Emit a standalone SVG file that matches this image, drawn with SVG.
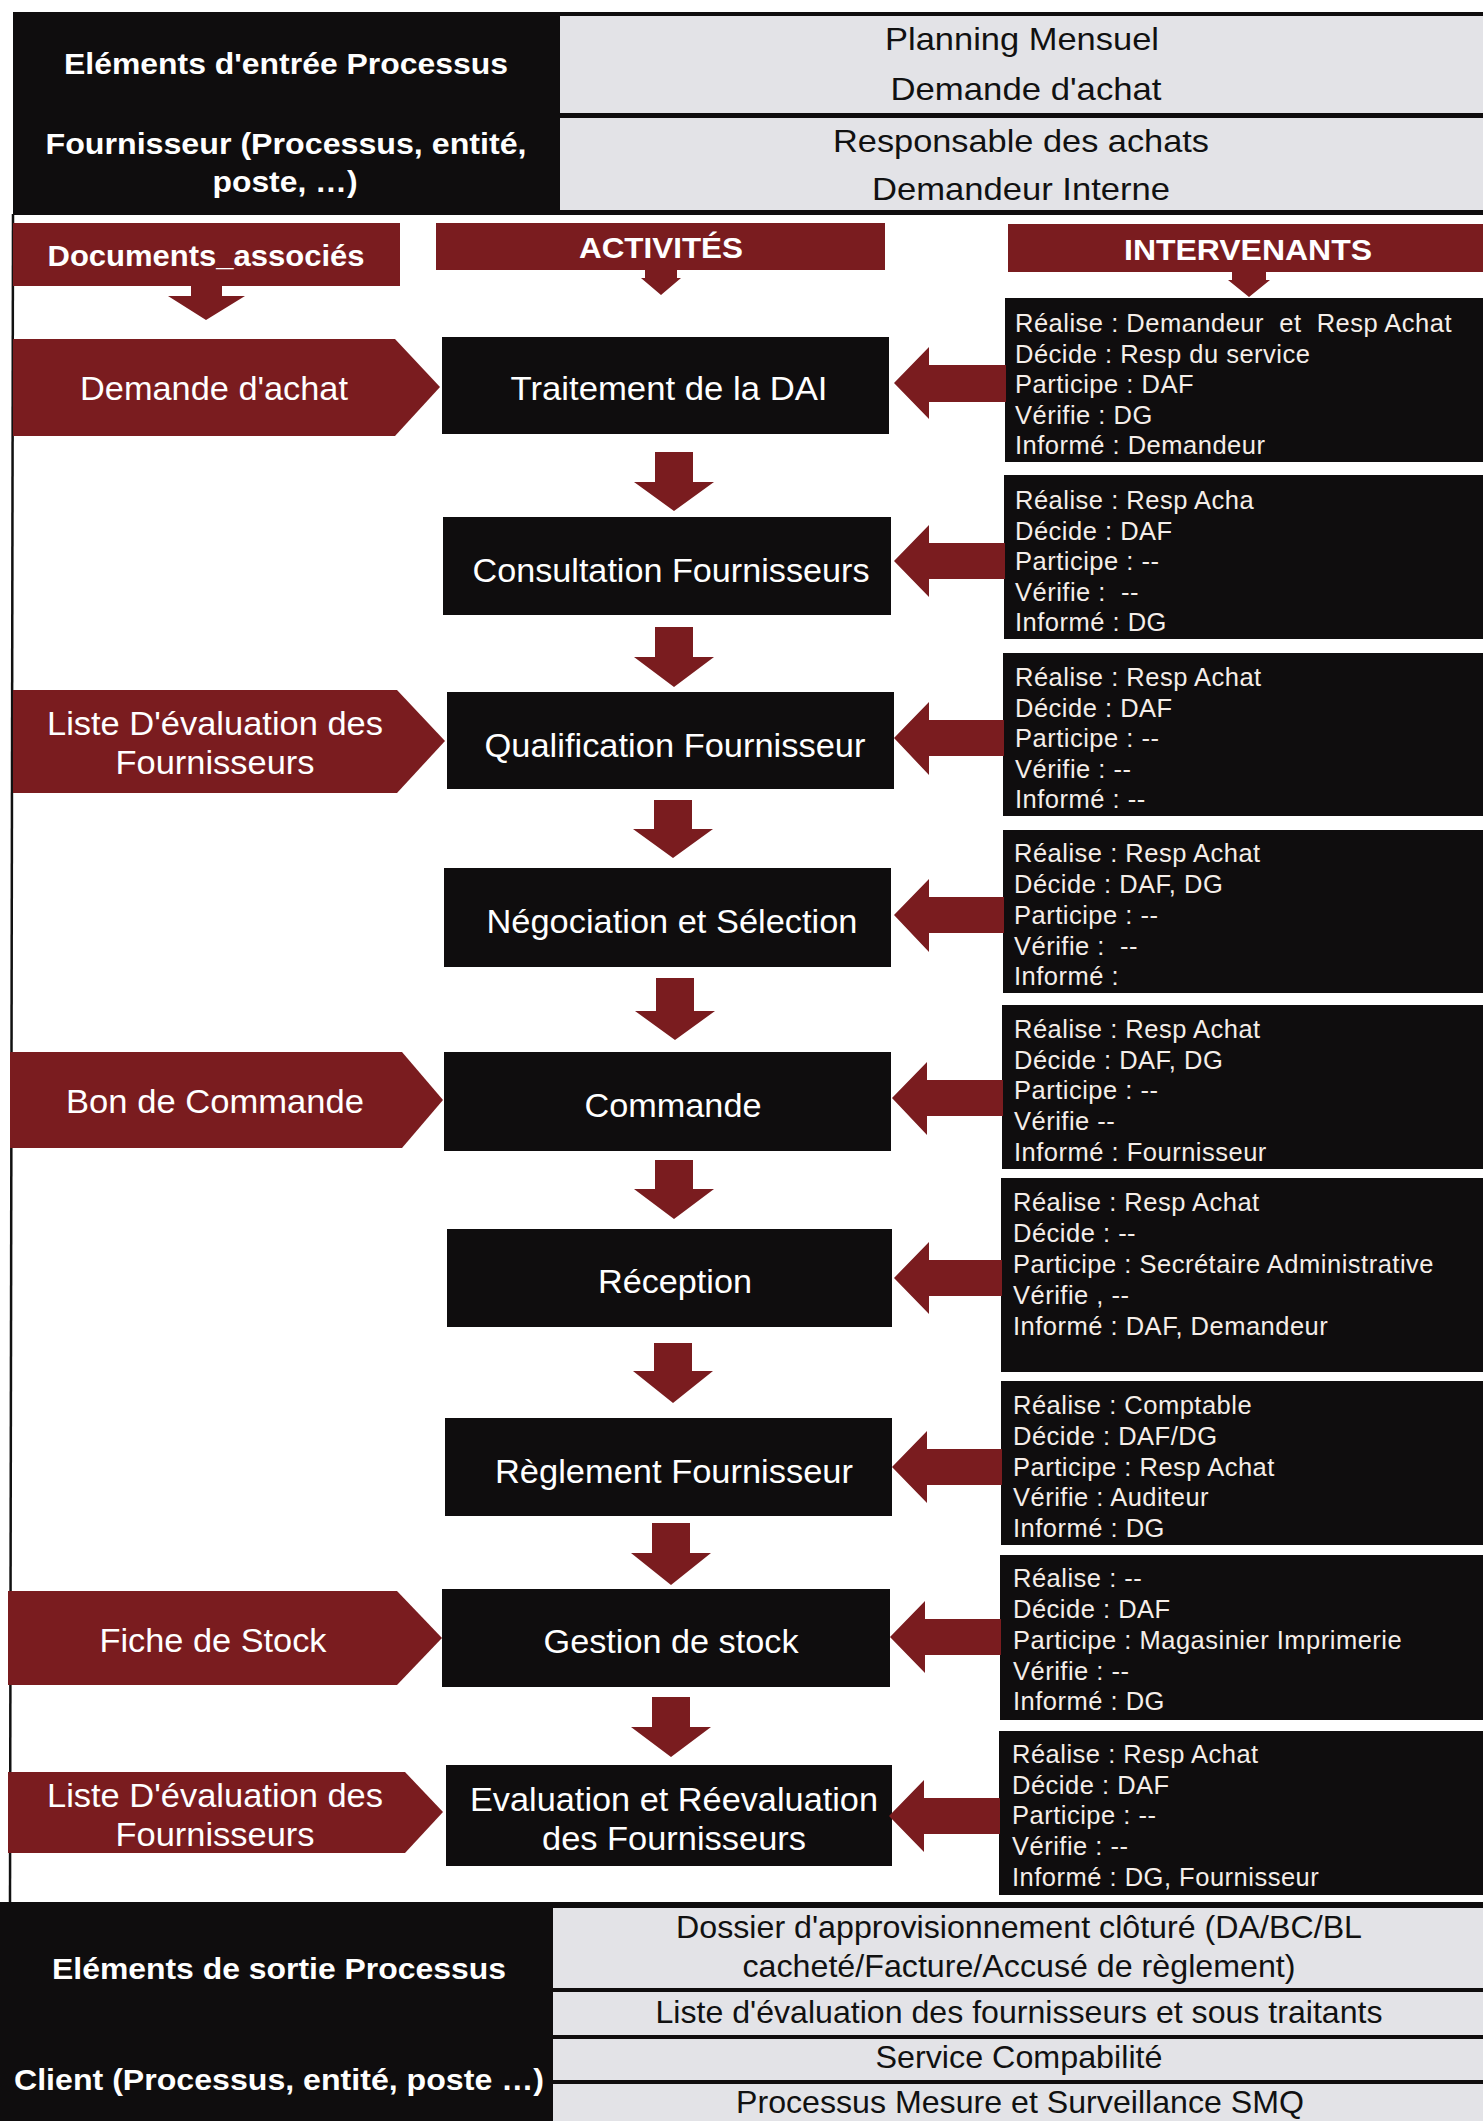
<svg xmlns="http://www.w3.org/2000/svg" width="1483" height="2121" viewBox="0 0 1483 2121">
<style>
.blk{fill:#0f0d0e}
.red{fill:#7a1c1f}
.gray{fill:#e3e3e7}
.hd{font-family:"Liberation Sans",Arial,sans-serif;font-weight:bold;font-size:30px;fill:#ffffff;text-anchor:middle}
.act{font-family:"Liberation Sans",Arial,sans-serif;font-size:33px;fill:#ffffff;text-anchor:middle}
.cell{font-family:"Liberation Sans",Arial,sans-serif;font-size:32px;fill:#111111;text-anchor:middle}
.int{font-family:"Liberation Sans",Arial,sans-serif;font-size:25.5px;fill:#f5eee9;letter-spacing:0.5px;white-space:pre}
.arr{fill:#7a1c1f}
</style>
<rect x="0" y="0" width="1483" height="2121" fill="#ffffff"/>

<!-- top table -->
<g id="table-top">
<rect class="blk" x="13" y="12" width="1470" height="203"/>
<rect class="gray" x="560" y="16" width="923" height="97"/>
<rect class="gray" x="560" y="118" width="923" height="92"/>
<text class="hd" x="286" y="74" textLength="444" lengthAdjust="spacingAndGlyphs">Eléments d'entrée Processus</text>
<text class="hd" x="286" y="154" textLength="481" lengthAdjust="spacingAndGlyphs">Fournisseur (Processus, entité,</text>
<text class="hd" x="285" y="192" textLength="145" lengthAdjust="spacingAndGlyphs">poste, …)</text>
<text class="cell" x="1022" y="50" textLength="274" lengthAdjust="spacingAndGlyphs">Planning Mensuel</text>
<text class="cell" x="1026" y="100" textLength="271" lengthAdjust="spacingAndGlyphs">Demande d'achat</text>
<text class="cell" x="1021" y="152" textLength="376" lengthAdjust="spacingAndGlyphs">Responsable des achats</text>
<text class="cell" x="1021" y="200" textLength="298" lengthAdjust="spacingAndGlyphs">Demandeur Interne</text>
</g>

<line x1="13" y1="214" x2="10" y2="1903" stroke="#111" stroke-width="2.5"/>

<!-- header banners -->
<g id="hdr-documents">
<rect class="red" x="13" y="223" width="387" height="63"/>
<text class="hd" x="206" y="266" textLength="317" lengthAdjust="spacingAndGlyphs">Documents_associés</text>
</g>
<g id="hdr-activites">
<rect class="red" x="436" y="223" width="449" height="47"/>
<text class="hd" x="661" y="258" textLength="164" lengthAdjust="spacingAndGlyphs">ACTIVITÉS</text>
</g>
<g id="hdr-intervenants">
<rect class="red" x="1008" y="224" width="475" height="48"/>
<text class="hd" x="1248" y="260" textLength="248" lengthAdjust="spacingAndGlyphs">INTERVENANTS</text>
</g>

<!-- documents -->
<g id="doc-1">
<polygon class="red" points="13,339 395,339 440,387 395,436 13,436"/>
<text class="act" x="214" y="400" textLength="268" lengthAdjust="spacingAndGlyphs">Demande d'achat</text>
</g>
<g id="doc-3">
<polygon class="red" points="13,690 397,690 445,741 397,793 13,793"/>
<text class="act" x="215" y="735" textLength="336" lengthAdjust="spacingAndGlyphs">Liste D'évaluation des</text>
<text class="act" x="215" y="774" textLength="199" lengthAdjust="spacingAndGlyphs">Fournisseurs</text>
</g>
<g id="doc-5">
<polygon class="red" points="10,1052 402,1052 443,1100 402,1148 10,1148"/>
<text class="act" x="215" y="1113" textLength="298" lengthAdjust="spacingAndGlyphs">Bon de Commande</text>
</g>
<g id="doc-8">
<polygon class="red" points="8,1591 397,1591 442,1638 397,1685 8,1685"/>
<text class="act" x="213" y="1652" textLength="227" lengthAdjust="spacingAndGlyphs">Fiche de Stock</text>
</g>
<g id="doc-9">
<polygon class="red" points="8,1772 405,1772 443,1812 405,1853 8,1853"/>
<text class="act" x="215" y="1807" textLength="336" lengthAdjust="spacingAndGlyphs">Liste D'évaluation des</text>
<text class="act" x="215" y="1846" textLength="199" lengthAdjust="spacingAndGlyphs">Fournisseurs</text>
</g>

<!-- activities -->
<g id="act-1"><rect class="blk" x="442" y="337" width="447" height="97"/><text class="act" x="669" y="400" textLength="317" lengthAdjust="spacingAndGlyphs">Traitement de la DAI</text></g>
<g id="act-2"><rect class="blk" x="443" y="517" width="448" height="98"/><text class="act" x="671" y="582" textLength="397" lengthAdjust="spacingAndGlyphs">Consultation Fournisseurs</text></g>
<g id="act-3"><rect class="blk" x="447" y="692" width="447" height="97"/><text class="act" x="675" y="757" textLength="381" lengthAdjust="spacingAndGlyphs">Qualification Fournisseur</text></g>
<g id="act-4"><rect class="blk" x="444" y="868" width="447" height="99"/><text class="act" x="672" y="933" textLength="371" lengthAdjust="spacingAndGlyphs">Négociation et Sélection</text></g>
<g id="act-5"><rect class="blk" x="444" y="1052" width="447" height="99"/><text class="act" x="673" y="1117" textLength="177" lengthAdjust="spacingAndGlyphs">Commande</text></g>
<g id="act-6"><rect class="blk" x="447" y="1229" width="445" height="98"/><text class="act" x="675" y="1293" textLength="154" lengthAdjust="spacingAndGlyphs">Réception</text></g>
<g id="act-7"><rect class="blk" x="445" y="1418" width="447" height="98"/><text class="act" x="674" y="1483" textLength="358" lengthAdjust="spacingAndGlyphs">Règlement Fournisseur</text></g>
<g id="act-8"><rect class="blk" x="442" y="1589" width="448" height="98"/><text class="act" x="671" y="1653" textLength="255" lengthAdjust="spacingAndGlyphs">Gestion de stock</text></g>
<g id="act-9"><rect class="blk" x="446" y="1765" width="446" height="101"/><text class="act" x="674" y="1811" textLength="408" lengthAdjust="spacingAndGlyphs">Evaluation et Réevaluation</text><text class="act" x="674" y="1850" textLength="264" lengthAdjust="spacingAndGlyphs">des Fournisseurs</text></g>

<!-- intervenants -->
<g id="int-1"><rect class="blk" x="1005" y="298" width="478" height="164"/>
<text class="int" x="1015" y="332" xml:space="preserve">Réalise : Demandeur  et  Resp Achat</text>
<text class="int" x="1015" y="362.5">Décide : Resp du service</text>
<text class="int" x="1015" y="393">Participe : DAF</text>
<text class="int" x="1015" y="423.5">Vérifie : DG</text>
<text class="int" x="1015" y="454">Informé : Demandeur</text></g>
<g id="int-2"><rect class="blk" x="1004" y="475" width="479" height="164"/>
<text class="int" x="1015" y="509">Réalise : Resp Acha</text>
<text class="int" x="1015" y="539.5">Décide : DAF</text>
<text class="int" x="1015" y="570">Participe : --</text>
<text class="int" x="1015" y="600.5" xml:space="preserve">Vérifie :  --</text>
<text class="int" x="1015" y="631">Informé : DG</text></g>
<g id="int-3"><rect class="blk" x="1003" y="653" width="480" height="163"/>
<text class="int" x="1015" y="686">Réalise : Resp Achat</text>
<text class="int" x="1015" y="716.5">Décide : DAF</text>
<text class="int" x="1015" y="747">Participe : --</text>
<text class="int" x="1015" y="777.5">Vérifie : --</text>
<text class="int" x="1015" y="808">Informé : --</text></g>
<g id="int-4"><rect class="blk" x="1003" y="830" width="480" height="163"/>
<text class="int" x="1014" y="862">Réalise : Resp Achat</text>
<text class="int" x="1014" y="893">Décide : DAF, DG</text>
<text class="int" x="1014" y="923.5">Participe : --</text>
<text class="int" x="1014" y="954.5" xml:space="preserve">Vérifie :  --</text>
<text class="int" x="1014" y="985">Informé :</text></g>
<g id="int-5"><rect class="blk" x="1002" y="1005" width="481" height="164"/>
<text class="int" x="1014" y="1037.5">Réalise : Resp Achat</text>
<text class="int" x="1014" y="1068.5">Décide : DAF, DG</text>
<text class="int" x="1014" y="1099">Participe : --</text>
<text class="int" x="1014" y="1129.5">Vérifie --</text>
<text class="int" x="1014" y="1160.5">Informé : Fournisseur</text></g>
<g id="int-6"><rect class="blk" x="1001" y="1178" width="482" height="194"/>
<text class="int" x="1013" y="1211">Réalise : Resp Achat</text>
<text class="int" x="1013" y="1242">Décide : --</text>
<text class="int" x="1013" y="1273">Participe : Secrétaire Administrative</text>
<text class="int" x="1013" y="1303.5">Vérifie , --</text>
<text class="int" x="1013" y="1335">Informé : DAF, Demandeur</text></g>
<g id="int-7"><rect class="blk" x="1001" y="1381" width="482" height="164"/>
<text class="int" x="1013" y="1414">Réalise : Comptable</text>
<text class="int" x="1013" y="1445">Décide : DAF/DG</text>
<text class="int" x="1013" y="1475.5">Participe : Resp Achat</text>
<text class="int" x="1013" y="1506">Vérifie : Auditeur</text>
<text class="int" x="1013" y="1536.5">Informé : DG</text></g>
<g id="int-8"><rect class="blk" x="1000" y="1555" width="483" height="165"/>
<text class="int" x="1013" y="1587">Réalise : --</text>
<text class="int" x="1013" y="1618">Décide : DAF</text>
<text class="int" x="1013" y="1649">Participe : Magasinier Imprimerie</text>
<text class="int" x="1013" y="1679.5">Vérifie : --</text>
<text class="int" x="1013" y="1710">Informé : DG</text></g>
<g id="int-9"><rect class="blk" x="999" y="1731" width="484" height="164"/>
<text class="int" x="1012" y="1763">Réalise : Resp Achat</text>
<text class="int" x="1012" y="1793.5">Décide : DAF</text>
<text class="int" x="1012" y="1824">Participe : --</text>
<text class="int" x="1012" y="1854.5">Vérifie : --</text>
<text class="int" x="1012" y="1885.5">Informé : DG, Fournisseur</text></g>

<!-- bottom table -->
<g id="table-bottom">
<rect class="blk" x="0" y="1902" width="1483" height="219"/>
<rect class="gray" x="553" y="1908" width="930" height="80"/>
<rect class="gray" x="553" y="1992" width="930" height="43"/>
<rect class="gray" x="553" y="2039" width="930" height="41"/>
<rect class="gray" x="553" y="2084" width="930" height="37"/>
<text class="hd" x="279" y="1979" textLength="454" lengthAdjust="spacingAndGlyphs">Eléments de sortie Processus</text>
<text class="hd" x="279" y="2090" textLength="530" lengthAdjust="spacingAndGlyphs">Client (Processus, entité, poste …)</text>
<text class="cell" x="1019" y="1938" font-size="30" textLength="686" lengthAdjust="spacingAndGlyphs">Dossier d'approvisionnement clôturé (DA/BC/BL</text>
<text class="cell" x="1019" y="1977" font-size="30" textLength="553" lengthAdjust="spacingAndGlyphs">cacheté/Facture/Accusé de règlement)</text>
<text class="cell" x="1019" y="2023" font-size="30" textLength="727" lengthAdjust="spacingAndGlyphs">Liste d'évaluation des fournisseurs et sous traitants</text>
<text class="cell" x="1019" y="2068" font-size="30" textLength="287" lengthAdjust="spacingAndGlyphs">Service Compabilité</text>
<text class="cell" x="1020" y="2113" font-size="30" textLength="568" lengthAdjust="spacingAndGlyphs">Processus Mesure et Surveillance SMQ</text>
</g>

<!-- connectors -->
<g id="connectors">
<polygon class="arr" points="191,285 222,285 222,296 245,296 206,320 168,296 191,296"/>
<polygon class="arr" points="645,269 677,269 677,278 681,278 661,295 641,278 645,278"/>
<polygon class="arr" points="1232,271 1266,271 1266,280 1270,280 1249,297 1228,280 1232,280"/>

<polygon class="arr" points="655,452 693,452 693,482 714,482 674,511 634,482 655,482"/>
<polygon class="arr" points="655,627 693,627 693,657 714,657 674,687 634,657 655,657"/>
<polygon class="arr" points="654,800 692,800 692,829 713,829 673,858 633,829 654,829"/>
<polygon class="arr" points="656,978 694,978 694,1011 715,1011 675,1040 635,1011 656,1011"/>
<polygon class="arr" points="655,1160 693,1160 693,1189 714,1189 674,1219 634,1189 655,1189"/>
<polygon class="arr" points="654,1343 692,1343 692,1371 713,1371 673,1403 633,1371 654,1371"/>
<polygon class="arr" points="652,1523 690,1523 690,1553 711,1553 671,1585 631,1553 652,1553"/>
<polygon class="arr" points="652,1697 690,1697 690,1727 711,1727 671,1757 631,1727 652,1727"/>

<polygon class="arr" points="894,383 929,347 929,365 1006,365 1006,402 929,402 929,419"/>
<polygon class="arr" points="894,561 929,525 929,543 1005,543 1005,579 929,579 929,597"/>
<polygon class="arr" points="894,738 929,702 929,720 1004,720 1004,756 929,756 929,775"/>
<polygon class="arr" points="894,915 929,879 929,897 1004,897 1004,933 929,933 929,952"/>
<polygon class="arr" points="892,1098 927,1062 927,1080 1003,1080 1003,1116 927,1116 927,1135"/>
<polygon class="arr" points="894,1278 929,1242 929,1260 1002,1260 1002,1296 929,1296 929,1314"/>
<polygon class="arr" points="892,1467 927,1431 927,1449 1002,1449 1002,1485 927,1485 927,1503"/>
<polygon class="arr" points="890,1637 925,1601 925,1619 1001,1619 1001,1655 925,1655 925,1673"/>
<polygon class="arr" points="889,1816 924,1780 924,1798 1000,1798 1000,1834 924,1834 924,1852"/>
</g>
</svg>
